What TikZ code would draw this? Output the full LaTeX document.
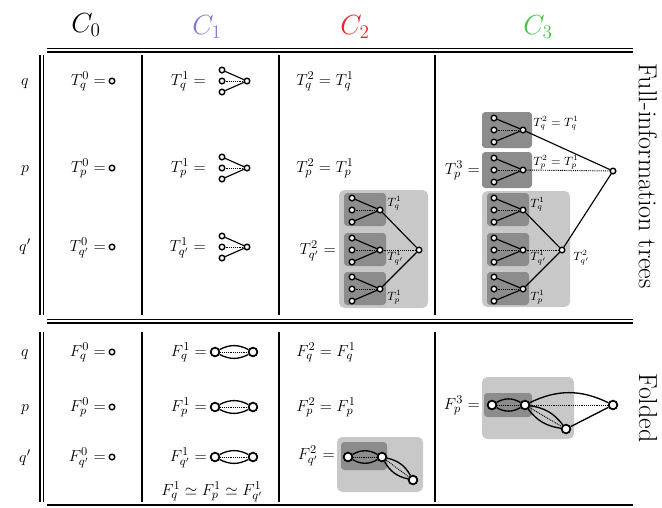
\documentclass[tikz,border=0pt]{standalone}
\usepackage{amsmath,amssymb}
\definecolor{cone}{RGB}{125,125,215}
\definecolor{ctwo}{RGB}{235,35,35}
\definecolor{cthree}{RGB}{70,195,70}
\definecolor{lightbox}{RGB}{200,200,200}
\definecolor{darkbox}{RGB}{140,140,140}
\newcommand{\mainsize}{\fontsize{13}{16}\selectfont}
\newcommand{\lblsize}{\fontsize{8.7}{10}\selectfont}
\newcommand{\mytree}[5]{%
  \node[leaf] (#1a) at (#2,#3-#5) {};
  \node[leaf] (#1b) at (#2,#3) {};
  \node[leaf] (#1c) at (#2,#3+#5) {};
  \node[leaf] (#1r) at (#2+#4,#3) {};
  \draw[edge] (#1a) -- (#1r);
  \draw[edge] (#1c) -- (#1r);
  \draw[dedge] (#1b) -- (#1r);
}
\newcommand{\mylens}[3]{%
  \draw[fedge] (#1) to[bend left=#3] (#2);
  \draw[fedge] (#1) to[bend right=#3] (#2);
  \draw[dedge] (#1) -- (#2);
}
\begin{document}
\begin{tikzpicture}[x=0.75pt,y=-0.75pt,
  leaf/.style={circle,draw,line width=1.05pt,fill=white,inner sep=0pt,minimum size=4.2pt},
  fold/.style={circle,draw,line width=1.3pt,fill=white,inner sep=0pt,minimum size=6.5pt},
  edge/.style={line width=0.85pt},
  fedge/.style={line width=1pt},
  dedge/.style={line width=0.7pt,dash pattern=on 0.7pt off 0.7pt},
  txt/.style={font=\mainsize,inner sep=0pt,anchor=base west},
  eqt/.style={font=\mainsize,inner sep=0pt,anchor=base east},
  lbl/.style={font=\lblsize,inner sep=0pt,anchor=west},
  head/.style={font=\fontsize{21}{24}\selectfont,inner sep=0pt},
  side/.style={font=\fontsize{19.5}{24}\selectfont,rotate=-90,inner sep=0pt},
  rule/.style={line width=0.9pt},
  vrule/.style={line width=1.1pt},
  lbox/.style={fill=lightbox,rounded corners=4pt},
  dbox/.style={fill=darkbox,rounded corners=2.5pt}]
\useasboundingbox (0,0) rectangle (662,508);

% ---------- header ----------
\node[head] (h0) at (86,25) {$C_0$};
\node[head,text=cone] (h1) at (207,27) {$C_1$};
\node[head,text=ctwo] (h2) at (355,27) {$C_2$};
\node[head,text=cthree] (h3) at (538,27) {$C_3$};

% ---------- table rules ----------
\draw[rule] (47,48.5) -- (633,48.5);
\draw[rule] (47,52) -- (633,52);
\draw[vrule] (40,55) -- (40,315);
\draw[vrule] (43.5,55) -- (43.5,315);
\foreach \xx in {142,279,435} \draw[vrule] (\xx,55) -- (\xx,315);
\draw[rule] (47,319.5) -- (633,319.5);
\draw[rule] (47,323) -- (633,323);
\draw[vrule] (40,332) -- (40,502);
\draw[vrule] (43.5,332) -- (43.5,502);
\foreach \xx in {142,279,435} \draw[vrule] (\xx,332) -- (\xx,502);
\draw[rule] (47,505) -- (633,505);

% ---------- side labels ----------
\node[side] (sideA) at (648,176) {Full-information trees};
\node[side] (sideB) at (648,408) {Folded};

% ---------- row labels ----------
\node[txt,anchor=base] (rq) at (25,85) {$q$};
\node[txt,anchor=base] (rp) at (25,172) {$p$};
\node[txt,anchor=base] (rs) at (25,251) {$q'$};
\node[txt,anchor=base] (rq2) at (25,356) {$q$};
\node[txt,anchor=base] (rp2) at (25,411) {$p$};
\node[txt,anchor=base] (rs2) at (25,462) {$q'$};

% ---------- C0 top ----------
\node[eqt] (t0q) at (106,85) {$T^0_q =$};
\node[leaf] (d0q) at (112,81) {};
\node[eqt] (t0p) at (106,172) {$T^0_p =$};
\node[leaf] (d0p) at (112,168) {};
\node[eqt] (t0s) at (106,251) {$T^0_{q'} =$};
\node[leaf] (d0s) at (112,247) {};

% ---------- C1 top ----------
\node[eqt] (t1q) at (206,85) {$T^1_q =$};
\mytree{aq}{222}{81}{25}{11}
\node[eqt] (t1p) at (206,172) {$T^1_p =$};
\mytree{ap}{222}{168}{25}{11}
\node[eqt] (t1s) at (206,251) {$T^1_{q'} =$};
\mytree{as}{222}{247}{25}{11}

% ---------- C2 top ----------
\node[txt] (t2q) at (296,85) {$T^2_q = T^1_q$};
\node[txt] (t2p) at (296,172) {$T^2_p = T^1_p$};
\node[eqt] (t2s) at (336,254) {$T^2_{q'} =$};
\fill[lbox] (339,190) rectangle (428,308);
\fill[dbox] (344,193) rectangle (386,226);
\fill[dbox] (344,233) rectangle (386,266);
\fill[dbox] (344,272) rectangle (386,305);
\mytree{bq}{352}{210}{28}{12}
\mytree{bs}{352}{250}{28}{12}
\mytree{bp}{352}{289}{28}{12}
\node[leaf] (bR) at (419,250) {};
\draw[edge] (bqr) -- (bR);
\draw[edge] (bpr) -- (bR);
\draw[dedge] (bsr) -- (bR);
\node[lbl] (lbq) at (387,203) {$T^1_q$};
\node[lbl] (lbs) at (387,258) {$T^1_{q'}$};
\node[lbl] (lbp) at (387,297) {$T^1_p$};

% ---------- C3 top ----------
\node[eqt] (t3p) at (480,174) {$T^3_p =$};
\fill[dbox] (482,112) rectangle (532,148);
\fill[dbox] (482,152) rectangle (532,188);
\fill[lbox] (482,191) rectangle (570,307);
\fill[dbox] (487,193) rectangle (529,226);
\fill[dbox] (487,233) rectangle (529,266);
\fill[dbox] (487,272) rectangle (529,305);
\mytree{cq}{494}{130}{29}{12}
\mytree{cp}{494}{170}{29}{12}
\mytree{csq}{494}{210}{29}{12}
\mytree{css}{494}{250}{29}{12}
\mytree{csp}{494}{289}{29}{12}
\node[leaf] (cM) at (562,250) {};
\node[leaf] (cR) at (613,171) {};
\draw[edge] (csqr) -- (cM);
\draw[edge] (cspr) -- (cM);
\draw[dedge] (cssr) -- (cM);
\draw[edge] (cqr) -- (cR);
\draw[dedge] (cpr) -- (cR);
\draw[edge] (cM) -- (cR);
\node[lbl] (lcq) at (533,123) {$T^2_q = T^1_q$};
\node[lbl] (lcp) at (533,162) {$T^2_p = T^1_p$};
\node[lbl] (lcsq) at (530,204) {$T^1_q$};
\node[lbl] (lcss) at (530,258) {$T^1_{q'}$};
\node[lbl] (lcsp) at (530,297) {$T^1_p$};
\node[lbl] (lcM) at (573,258) {$T^2_{q'}$};

% ---------- C0 bottom ----------
\node[eqt] (f0q) at (106,356) {$F^0_q =$};
\node[leaf] (e0q) at (112,352) {};
\node[eqt] (f0p) at (106,411) {$F^0_p =$};
\node[leaf] (e0p) at (112,407) {};
\node[eqt] (f0s) at (106,461) {$F^0_{q'} =$};
\node[leaf] (e0s) at (112,457) {};

% ---------- C1 bottom ----------
\node[eqt] (f1q) at (207,356) {$F^1_q =$};
\node[fold] (g1qa) at (215,352) {};
\node[fold] (g1qb) at (253,352) {};
\mylens{g1qa}{g1qb}{28}
\node[eqt] (f1p) at (207,411) {$F^1_p =$};
\node[fold] (g1pa) at (215,407) {};
\node[fold] (g1pb) at (253,407) {};
\mylens{g1pa}{g1pb}{28}
\node[eqt] (f1s) at (207,461) {$F^1_{q'} =$};
\node[fold] (g1sa) at (215,457) {};
\node[fold] (g1sb) at (253,457) {};
\mylens{g1sa}{g1sb}{28}
\node[txt,anchor=base] (feq) at (212,495) {$F^1_q \simeq F^1_p \simeq F^1_{q'}$};

% ---------- C2 bottom ----------
\node[txt] (f2q) at (296,356) {$F^2_q = F^1_q$};
\node[txt] (f2p) at (296,411) {$F^2_p = F^1_p$};
\node[eqt] (f2s) at (335,459) {$F^2_{q'} =$};
\fill[lbox] (337,437) rectangle (423,492);
\fill[dbox] (341,442) rectangle (387,470);
\node[fold] (g2a) at (348,457) {};
\node[fold] (g2b) at (382,457) {};
\node[fold] (g2c) at (413,480) {};
\mylens{g2a}{g2b}{30}
\mylens{g2b}{g2c}{24}

% ---------- C3 bottom ----------
\node[eqt] (f3p) at (480,409) {$F^3_p =$};
\fill[lbox] (482,377) rectangle (574,439);
\fill[dbox] (484,393) rectangle (532,417);
\node[fold] (g3a) at (492,405) {};
\node[fold] (g3b) at (525,405) {};
\node[fold] (g3r) at (613,405) {};
\node[fold] (g3c) at (566,429) {};
\mylens{g3a}{g3b}{30}
\mylens{g3b}{g3c}{22}
\draw[fedge] (g3b) to[bend left=26] (g3r);
\draw[dedge] (g3b) -- (g3r);
\draw[fedge] (g3c) -- (g3r);
\end{tikzpicture}
\end{document}
